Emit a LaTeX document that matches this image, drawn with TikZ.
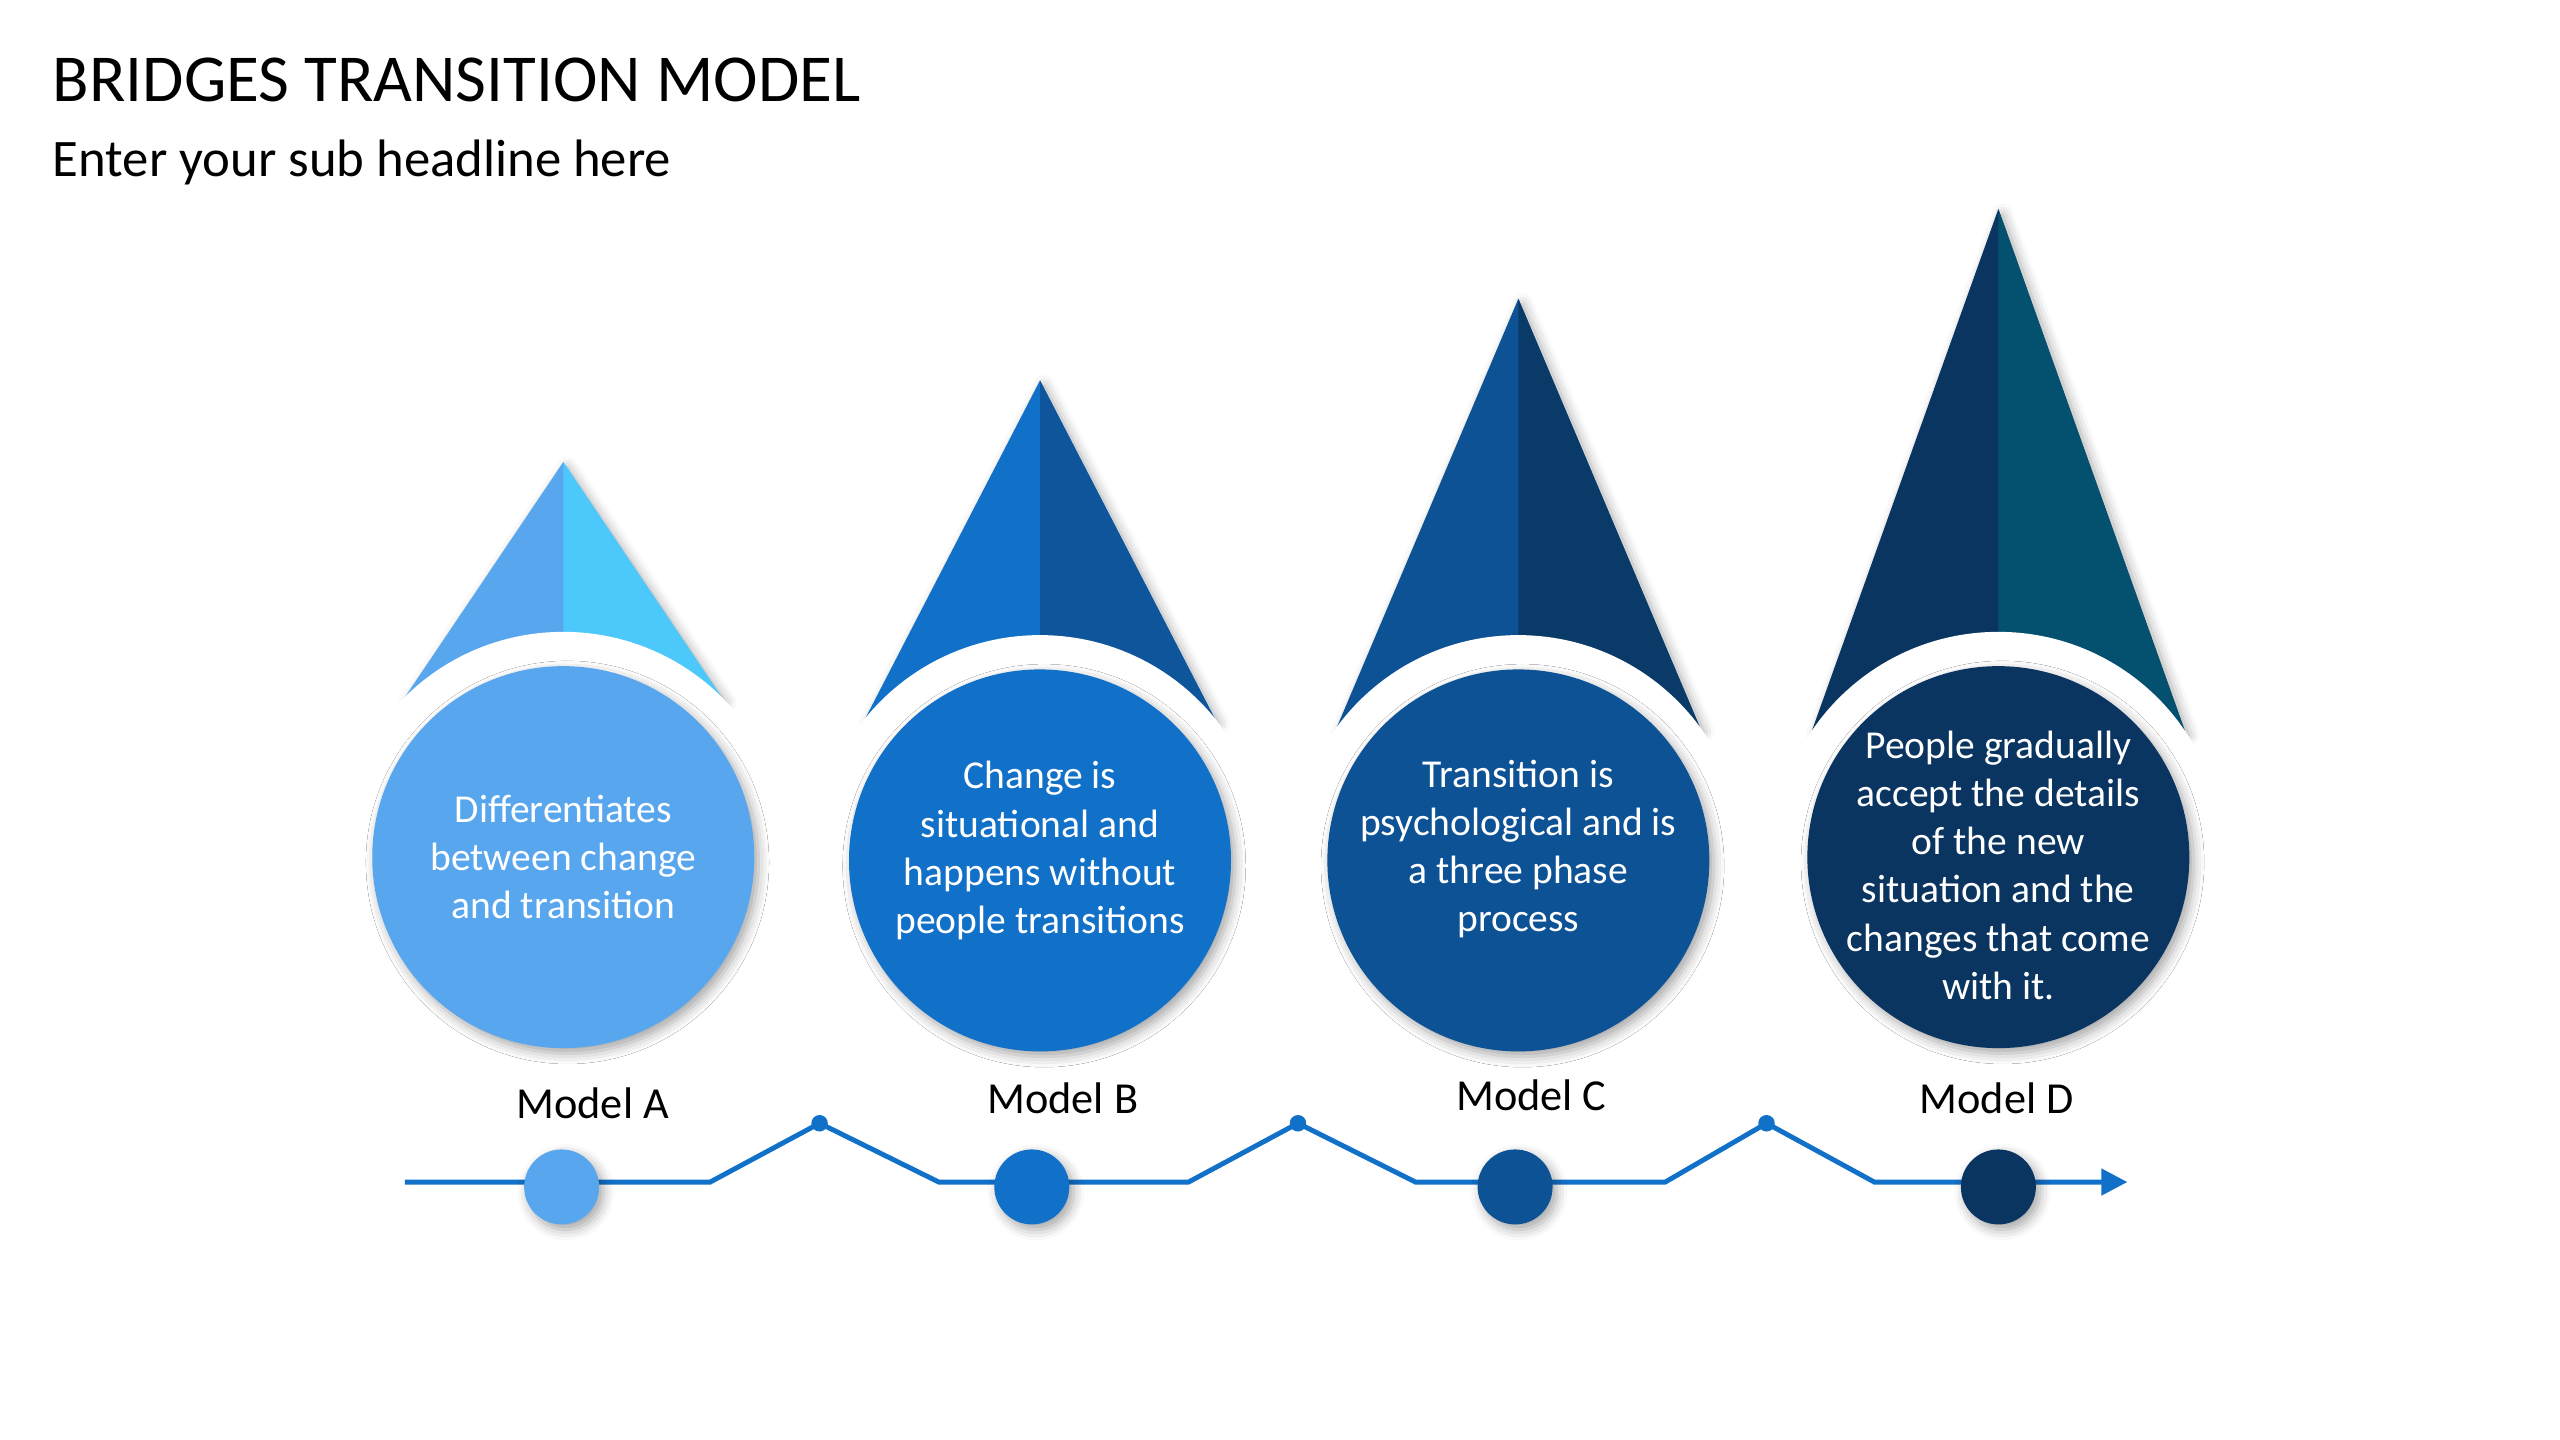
\documentclass[tikz,border=0pt]{standalone}
\usepackage{fontspec}
\setmainfont{Carlito}
\usepackage{xcolor}
\usetikzlibrary{arrows.meta,positioning,calc,shadows.blur}

\definecolor{blueA}{HTML}{58A6EE}
\definecolor{cyanA}{HTML}{4CC8FB}
\definecolor{blueB}{HTML}{1170C8}
\definecolor{darkB}{HTML}{0F559C}
\definecolor{blueC}{HTML}{0E5296}
\definecolor{darkC}{HTML}{0A3A67}
\definecolor{blueD}{HTML}{0B3561}
\definecolor{tealD}{HTML}{04506F}

\tikzset{
  softshadow/.style={blur shadow={shadow xshift=1.2pt, shadow yshift=-1.5pt, shadow blur radius=3pt, shadow opacity=35}},
  bubble/.style={circle, minimum size=38.2mm, inner sep=0pt, softshadow},
  bubbletext/.style={align=center, text=white, inner sep=0pt, font=\fontsize{11.25}{13.7}\selectfont},
  stopdot/.style={circle, minimum size=7.5mm, inner sep=0pt, softshadow},
  peakdot/.style={circle, fill=blueB, minimum size=1.65mm, inner sep=0pt},
  modelname/.style={font=\fontsize{12.6}{15}\selectfont},
  timeline/.style={blueB, line width=1.4pt},
}

\begin{document}
\begin{tikzpicture}[x=0.16327mm, y=-0.16327mm]
  \useasboundingbox (0,0) rectangle (1568,882);

  % Headings
  \node[anchor=base west, inner sep=0pt, font=\fontsize{19.1}{23}\selectfont] (title) at (32,62) {BRIDGES TRANSITION MODEL};
  \node[anchor=base west, inner sep=0pt, font=\fontsize{15}{18}\selectfont] (subtitle) at (32,108) {Enter your sub headline here};

  % Model A
  \coordinate (cenA) at (345,525);
  \coordinate (topA) at (345,283);
  \fill[blueA, softshadow] (topA) -- ($(cenA)+(-97,-98)$) -- ($(cenA)+(97,-98)$) -- cycle;
  \fill[cyanA] (topA) -- ($(cenA)+(0,-98)$) -- ($(cenA)+(97,-98)$) -- cycle;
  \fill[white] (cenA) circle (22.53mm);
  \node[bubble, fill=blueA] (circA) at (cenA) {};
  \node[bubbletext] (txtA) at (circA) {Differentiates\\between change\\and transition};

  % Model B
  \coordinate (cenB) at (637,527);
  \coordinate (topB) at (637,233);
  \fill[blueB, softshadow] (topB) -- ($(cenB)+(-107,-87)$) -- ($(cenB)+(107,-87)$) -- cycle;
  \fill[darkB] (topB) -- ($(cenB)+(0,-87)$) -- ($(cenB)+(107,-87)$) -- cycle;
  \fill[white] (cenB) circle (22.53mm);
  \node[bubble, fill=blueB] (circB) at (cenB) {};
  \node[bubbletext] (txtB) at ($(circB)+(0,-6)$) {Change is\\situational and\\happens without\\people transitions};

  % Model C
  \coordinate (cenC) at (930,527);
  \coordinate (topC) at (930,183);
  \fill[blueC, softshadow] (topC) -- ($(cenC)+(-111,-82)$) -- ($(cenC)+(111,-82)$) -- cycle;
  \fill[darkC] (topC) -- ($(cenC)+(0,-82)$) -- ($(cenC)+(111,-82)$) -- cycle;
  \fill[white] (cenC) circle (22.53mm);
  \node[bubble, fill=blueC] (circC) at (cenC) {};
  \node[bubbletext] (txtC) at ($(circC)+(0,-7)$) {Transition is\\psychological and is\\a three phase\\process};

  % Model D
  \coordinate (cenD) at (1224,525);
  \coordinate (topD) at (1224,128);
  \fill[blueD, softshadow] (topD) -- ($(cenD)+(-114,-78)$) -- ($(cenD)+(114,-78)$) -- cycle;
  \fill[tealD] (topD) -- ($(cenD)+(0,-78)$) -- ($(cenD)+(114,-78)$) -- cycle;
  \fill[white] (cenD) circle (22.53mm);
  \node[bubble, fill=blueD] (circD) at (cenD) {};
  \node[bubbletext] (txtD) at ($(circD)+(0,5)$) {People gradually\\accept the details\\of the new\\situation and the\\changes that come\\with it.};

  % Timeline
  \coordinate (t0) at (248,724);
  \coordinate (t1) at (435,724);
  \node[peakdot] (p1) at (502,688) {};
  \coordinate (t2) at (575,724);
  \coordinate (t3) at (728,724);
  \node[peakdot] (p2) at (795,688) {};
  \coordinate (t4) at (867,724);
  \coordinate (t5) at (1020,724);
  \node[peakdot] (p3) at (1082,688) {};
  \coordinate (t6) at (1148,724);
  \coordinate (t7) at (1303,724);
  \draw[timeline, -{Triangle[length=2.6mm, width=2.6mm]}] (t0) -- (t1) -- (p1.center) -- (t2) -- (t3)
    -- (p2.center) -- (t4) -- (t5) -- (p3.center) -- (t6) -- (t7);

  % Stops on the timeline
  \node[stopdot, fill=blueA] (dA) at (344,727) {};
  \node[stopdot, fill=blueB] (dB) at (632,727) {};
  \node[stopdot, fill=blueC] (dC) at (928,727) {};
  \node[stopdot, fill=blueD] (dD) at (1224,727) {};

  % Model names
  \node[modelname] (lA) at (363,676) {Model A};
  \node[modelname] (lB) at (651,673) {Model B};
  \node[modelname] (lC) at (938,671) {Model C};
  \node[modelname] (lD) at (1223,673) {Model D};
\end{tikzpicture}
\end{document}
